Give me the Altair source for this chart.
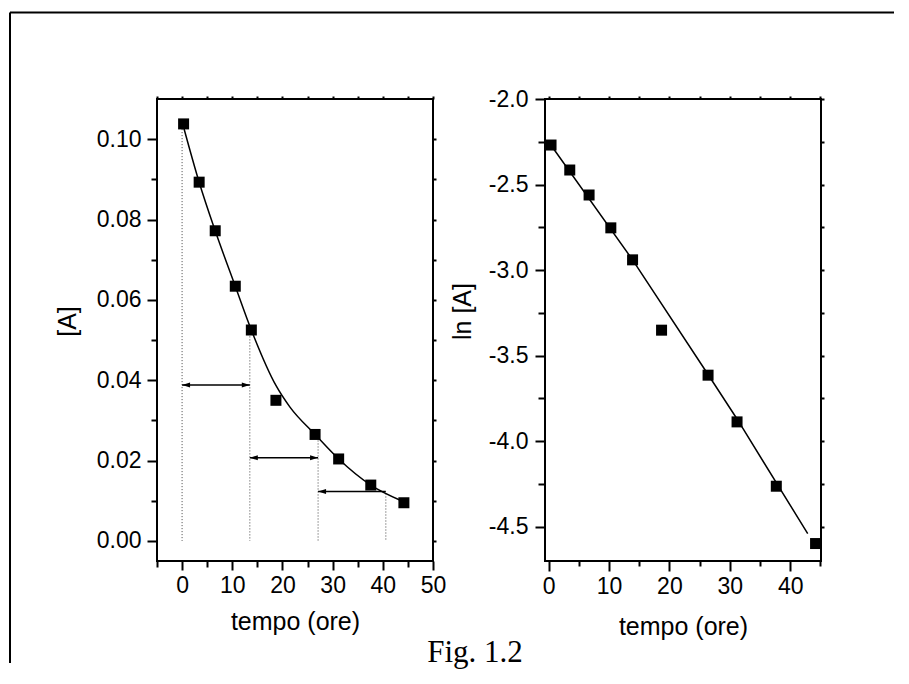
import altair as alt
import pandas as pd

# ---------------- data ----------------
# left panel: [A] versus time
t_conc = [0.3, 3.4, 6.6, 10.6, 13.8, 18.7, 26.5, 31.2, 37.6, 44.2]
conc_A = [0.1038, 0.0893, 0.0772, 0.0634, 0.0525, 0.0350, 0.0265, 0.0204, 0.0139, 0.0095]
curve_t = [0.3, 3.4, 6.6, 10.6, 13.8, 18.7, 21.5, 26.5, 31.2, 37.6, 43.7]
curve_A = [0.1030, 0.0893, 0.0772, 0.0634, 0.0525, 0.0387, 0.0333, 0.0265, 0.0204, 0.0139, 0.0100]
half_life_t = [0.0, 13.5, 27.1, 40.6]
half_life_top = [0.1025, 0.0524, 0.0250, 0.0118]
half_life_base = [0.0, 0.0, 0.0, 0.0]
arrow_from = [0.0, 13.5, 27.1]
arrow_to = [13.5, 27.1, 40.6]
arrow_level = [0.0388, 0.0207, 0.0123]
arrow_right_head = [True, True, False]

# right panel: ln[A] versus time
t_ln = [0.4, 3.5, 6.7, 10.3, 13.9, 18.7, 26.4, 31.2, 37.7, 44.2]
ln_A = [-2.269, -2.415, -2.561, -2.753, -2.940, -3.351, -3.614, -3.887, -4.263, -4.598]
fit_t = [0.4, 13.9, 26.4, 31.2, 42.9]
fit_ln = [-2.27, -2.94, -3.61, -3.87, -4.54]

# axis ticks
left_x_ticks = [-5, 0, 5, 10, 15, 20, 25, 30, 35, 40, 45, 50]
left_y_ticks = [0.00, 0.01, 0.02, 0.03, 0.04, 0.05, 0.06, 0.07, 0.08, 0.09, 0.10]
right_x_ticks = [0, 5, 10, 15, 20, 25, 30, 35, 40, 45]
right_y_ticks = [-2.0, -2.25, -2.5, -2.75, -3.0, -3.25, -3.5, -3.75, -4.0, -4.25, -4.5]

x_title = "tempo (ore)"
left_y_title = "[A]"
right_y_title = "ln [A]"
caption = "Fig. 1.2"

# ---------------- tables ----------------
pts_l = pd.DataFrame({"t": t_conc, "A": conc_A})
curve_l = pd.DataFrame({"t": curve_t, "A": curve_A})
drops = pd.DataFrame({"t": half_life_t, "top": half_life_top, "base": half_life_base})
arrows = pd.DataFrame({"t0": arrow_from, "t1": arrow_to, "A": arrow_level, "rh": arrow_right_head})
pts_r = pd.DataFrame({"t": t_ln, "lnA": ln_A})
fit_r = pd.DataFrame({"t": fit_t, "lnA": fit_ln})
one = pd.DataFrame({"k": [0]})

W, H = 276, 462
FONT = "Liberation Sans"

xs_l = alt.Scale(domain=[-5, 50], nice=False, zero=False)
ys_l = alt.Scale(domain=[-0.005, 0.11], nice=False, zero=False)
xs_r = alt.Scale(domain=[-0.6, 45.1], nice=False, zero=False)
ys_r = alt.Scale(domain=[-4.7, -2.0], nice=False, zero=False)


def cond(test, major, minor):
    return {"condition": {"test": test, "value": major}, "value": minor}


mirror_kw = dict(labels=False, tickSize=3, domain=False, title=None)

# ---------------- left panel ----------------
lx_major = "datum.value % 10 === 0"
ly_major = "round(datum.value * 100) % 2 === 0"

l_axis_x = alt.Axis(orient="bottom", values=left_x_ticks, title=x_title,
                    labelExpr=f"{lx_major} ? datum.label : ''",
                    tickSize=cond(lx_major, 9, 6), labelPadding=4, titlePadding=12)
l_axis_y = alt.Axis(orient="left", values=left_y_ticks, title=left_y_title,
                    labelExpr=f"{ly_major} ? format(datum.value, '.2f') : ''",
                    tickSize=cond(ly_major, 10, 6), labelPadding=6, titlePadding=16,
                    titleY=222)

l_drop = alt.Chart(drops).mark_rule(color="#444444", strokeWidth=1, strokeDash=[1, 2]).encode(
    x=alt.X("t:Q", scale=xs_l, axis=None),
    y=alt.Y("top:Q", scale=ys_l, axis=None),
    y2="base:Q",
)
l_curve = alt.Chart(curve_l).mark_line(color="black", strokeWidth=1.5, interpolate="monotone").encode(
    x=alt.X("t:Q", scale=xs_l, axis=None),
    y=alt.Y("A:Q", scale=ys_l, axis=None),
)
l_pts = alt.Chart(pts_l).mark_square(size=121, color="black", opacity=1).encode(
    x=alt.X("t:Q", scale=xs_l, axis=l_axis_x),
    y=alt.Y("A:Q", scale=ys_l, axis=l_axis_y),
)
l_mirror = alt.Chart(pts_l).mark_point(opacity=0).encode(
    x=alt.X("t:Q", scale=xs_l, axis=alt.Axis(orient="top", values=left_x_ticks, **mirror_kw)),
    y=alt.Y("A:Q", scale=ys_l, axis=alt.Axis(orient="right", values=left_y_ticks, **mirror_kw)),
)
l_arrow = alt.Chart(arrows).mark_rule(color="black", strokeWidth=1.5).encode(
    x=alt.X("t0:Q", scale=xs_l, axis=None),
    x2="t1:Q",
    y=alt.Y("A:Q", scale=ys_l, axis=None),
)
l_head_left = alt.Chart(arrows).mark_point(
    shape="M0,0L1,-0.32L1,0.32Z", size=256, filled=True, color="black", opacity=1
).encode(
    x=alt.X("t0:Q", scale=xs_l, axis=None),
    y=alt.Y("A:Q", scale=ys_l, axis=None),
)
l_head_right = alt.Chart(arrows).transform_filter("datum.rh").mark_point(
    shape="M0,0L-1,-0.32L-1,0.32Z", size=256, filled=True, color="black", opacity=1
).encode(
    x=alt.X("t1:Q", scale=xs_l, axis=None),
    y=alt.Y("A:Q", scale=ys_l, axis=None),
)
# outer frame of the figure (decoration) and caption
frame_v = alt.Chart(one).mark_rule(color="black", strokeWidth=2).encode(
    x=alt.value(-147), y=alt.value(-86.5), y2=alt.value(564)
)
frame_h = alt.Chart(one).mark_rule(color="black", strokeWidth=2).encode(
    x=alt.value(-147), x2=alt.value(737), y=alt.value(-86.5)
)
cap = alt.Chart(one).mark_text(
    text=caption, font="Liberation Serif", fontSize=31, align="center",
    baseline="alphabetic", color="black"
).encode(x=alt.value(318), y=alt.value(563))

left = alt.layer(
    l_drop, l_curve, l_arrow, l_head_left, l_head_right, l_pts, l_mirror,
    frame_v, frame_h, cap
).resolve_axis(x="independent", y="independent").properties(width=W, height=H)

# ---------------- right panel ----------------
rx_major = "datum.value % 10 === 0"
ry_major = "round(datum.value * 4) % 2 === 0"

r_axis_x = alt.Axis(orient="bottom", values=right_x_ticks, title=x_title,
                    labelExpr=f"{rx_major} ? datum.label : ''",
                    tickSize=cond(rx_major, 10, 5), labelPadding=4, titlePadding=16)
r_axis_y = alt.Axis(orient="left", values=right_y_ticks, title=right_y_title,
                    labelExpr=f"{ry_major} ? replace(format(datum.value, '.1f'), '\u2212', '-') : ''",
                    tickSize=cond(ry_major, 10, 7), labelPadding=7, titlePadding=13,
                    titleY=212)

r_fit = alt.Chart(fit_r).mark_line(color="black", strokeWidth=1.5).encode(
    x=alt.X("t:Q", scale=xs_r, axis=None),
    y=alt.Y("lnA:Q", scale=ys_r, axis=None),
)
r_pts = alt.Chart(pts_r).mark_square(size=121, color="black", opacity=1).encode(
    x=alt.X("t:Q", scale=xs_r, axis=r_axis_x),
    y=alt.Y("lnA:Q", scale=ys_r, axis=r_axis_y),
)
r_mirror = alt.Chart(pts_r).mark_point(opacity=0).encode(
    x=alt.X("t:Q", scale=xs_r, axis=alt.Axis(orient="top", values=right_x_ticks, **mirror_kw)),
    y=alt.Y("lnA:Q", scale=ys_r, axis=alt.Axis(orient="right", values=right_y_ticks, **mirror_kw)),
)

right = alt.layer(r_fit, r_pts, r_mirror).resolve_axis(
    x="independent", y="independent"
).properties(width=W, height=H)

chart = alt.hconcat(left, right, spacing=112, bounds="flush").properties(
    padding={"left": 0, "top": 2, "right": 0, "bottom": 0}
).configure_view(
    stroke="black", strokeWidth=2
).configure_axis(
    labelFont=FONT, titleFont=FONT, labelFontSize=23, titleFontSize=25,
    titleFontWeight="normal", labelColor="black", titleColor="black",
    tickColor="black", tickWidth=2, domain=False, grid=False,
    labelFlush=False, labelOverlap=False
)

chart.save("out.html", embed_options={"renderer": "svg", "actions": False})
